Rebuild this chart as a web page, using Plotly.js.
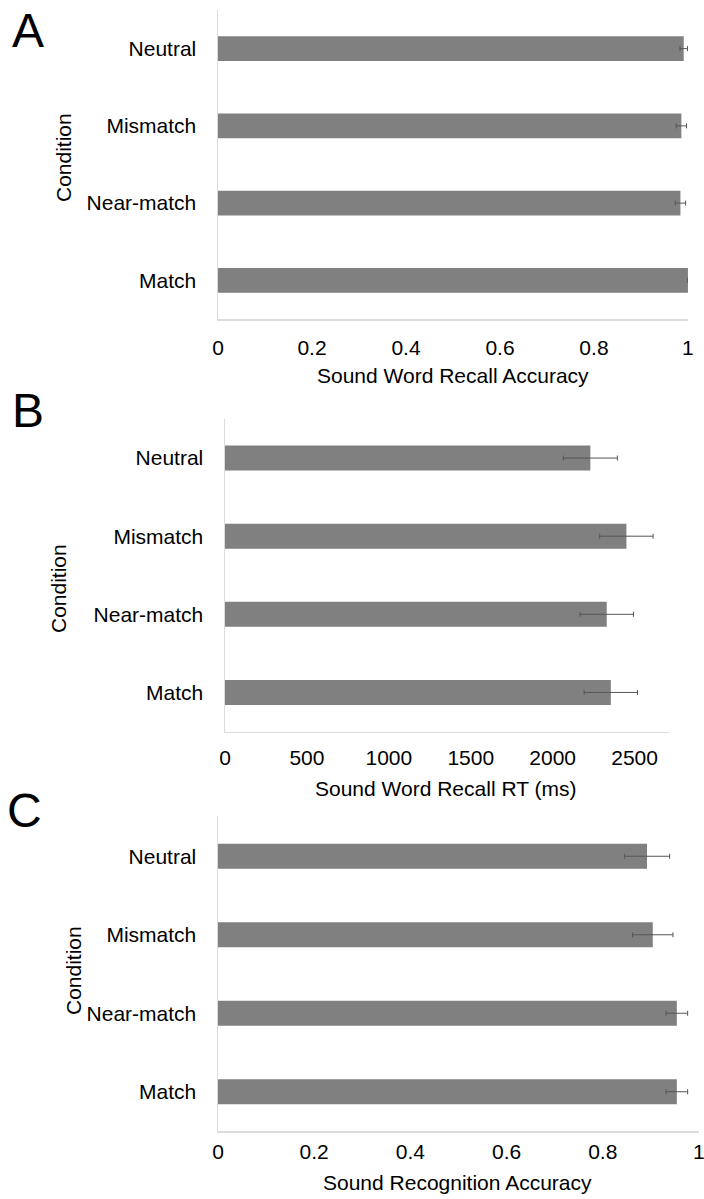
<!DOCTYPE html>
<html>
<head>
<meta charset="utf-8">
<script src="https://cdn.plot.ly/plotly-3.0.1.min.js"></script>
<style>html,body{margin:0;padding:0;background:#fff;}#chart{width:704px;height:1199px;}</style>
</head>
<body>
<div id="chart"></div>
<script>
// Data
const conditions = ['Neutral', 'Mismatch', 'Near-match', 'Match'];
const recallAccuracy = [0.991, 0.986, 0.984, 1.0];
const recallAccuracyErr = [0.008, 0.011, 0.011, 0];
const recallRT = [2230, 2450, 2330, 2355];
const recallRTErr = [165, 163, 163, 163];
const recognitionAccuracy = [0.892, 0.904, 0.954, 0.954];
const recognitionAccuracyErr = [0.047, 0.042, 0.0225, 0.0225];
const xTitles = ['Sound Word Recall Accuracy', 'Sound Word Recall RT (ms)', 'Sound Recognition Accuracy'];
const panelLetters = ['A', 'B', 'C'];

const W = 704, H = 1199;
const FONT = 'Arial, "Liberation Sans", sans-serif';
const barColor = '#808080';

// panel pixel boxes [x0, x1, yTop, yBottom]
const boxes = [
  [218, 688, 10, 319],
  [225, 669, 419, 731.5],
  [218, 699, 817, 1131]
];
const ranges = [[0, 1.0001], [0, 2710], [0, 1.0001]];
const dticks = [0.2, 500, 0.2];
const xTickLens = [9, 7, 1];
const values = [recallAccuracy, recallRT, recognitionAccuracy];
const errs = [recallAccuracyErr, recallRTErr, recognitionAccuracyErr];

const traces = [];
const layout = {
  width: W, height: H,
  margin: {l: 0, r: 0, t: 0, b: 0},
  paper_bgcolor: '#fff', plot_bgcolor: '#fff',
  showlegend: false,
  font: {family: FONT, size: 21, color: '#000'},
  annotations: []
};

const xTitlePos = [[453, 375], [445, 788], [458, 1182]];
const condPos = [[63, 158], [58, 589], [73, 971]];
const letterPos = [[28, 30], [28, 411], [24, 810]];

for (let i = 0; i < 3; i++) {
  const sfx = i === 0 ? '' : String(i + 1);
  const b = boxes[i];
  traces.push({
    type: 'bar', orientation: 'h',
    y: conditions, x: values[i],
    xaxis: 'x' + sfx, yaxis: 'y' + sfx,
    width: 0.32,
    marker: {color: barColor, line: {width: 0}},
    error_x: {type: 'data', array: errs[i], visible: true, color: '#555', thickness: 1, width: 2.5},
    hoverinfo: 'none'
  });
  layout['xaxis' + sfx] = {
    domain: [b[0] / W, b[1] / W],
    anchor: 'y' + sfx,
    range: ranges[i],
    dtick: dticks[i], tick0: 0,
    showgrid: false, zeroline: false,
    showline: true, linecolor: '#dcdcdc', linewidth: 1.5,
    ticks: 'outside', ticklen: xTickLens[i], tickcolor: 'rgba(0,0,0,0)',
    tickfont: {family: FONT, size: 21, color: '#000'},
    ticklabeloverflow: 'allow',
    fixedrange: true
  };
  layout['yaxis' + sfx] = {
    domain: [1 - b[3] / H, 1 - b[2] / H],
    anchor: 'x' + sfx,
    type: 'category',
    autorange: 'reversed',
    showgrid: false, zeroline: false,
    showline: true, linecolor: '#dcdcdc', linewidth: 1.5,
    ticks: 'outside', ticklen: 16, tickcolor: 'rgba(0,0,0,0)',
    tickfont: {family: FONT, size: 21, color: '#000'},
    fixedrange: true
  };
  layout.annotations.push({
    xref: 'paper', yref: 'paper',
    x: xTitlePos[i][0] / W, y: 1 - xTitlePos[i][1] / H,
    xanchor: 'center', yanchor: 'middle',
    text: xTitles[i], showarrow: false,
    font: {family: FONT, size: 21, color: '#000'}
  });
  layout.annotations.push({
    xref: 'paper', yref: 'paper',
    x: condPos[i][0] / W, y: 1 - condPos[i][1] / H,
    xanchor: 'center', yanchor: 'middle',
    text: 'Condition', textangle: -90, showarrow: false,
    font: {family: FONT, size: 21, color: '#000'}
  });
  layout.annotations.push({
    xref: 'paper', yref: 'paper',
    x: letterPos[i][0] / W, y: 1 - letterPos[i][1] / H,
    xanchor: 'center', yanchor: 'middle',
    text: panelLetters[i], showarrow: false,
    font: {family: FONT, size: 48, color: '#000'}
  });
}

Plotly.newPlot('chart', traces, layout, {staticPlot: true, displayModeBar: false});
</script>
</body>
</html>
